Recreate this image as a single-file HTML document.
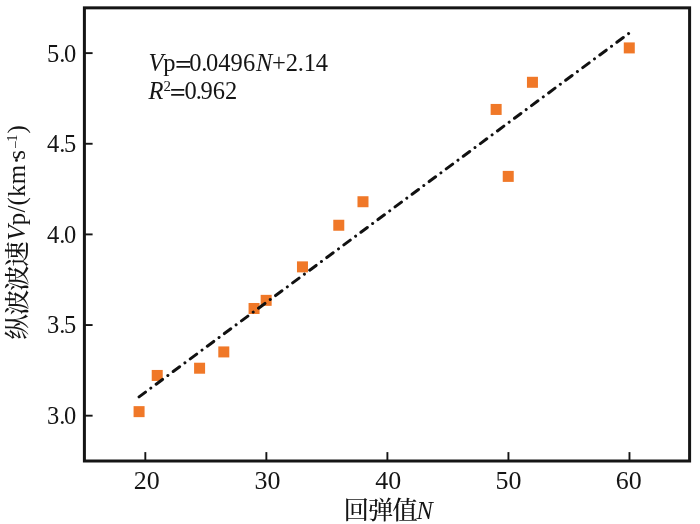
<!DOCTYPE html>
<html lang="zh">
<head>
<meta charset="utf-8">
<title>回弹值N - 纵波波速Vp</title>
<style>
html,body{margin:0;padding:0;background:#fff;}
body{width:700px;height:524px;overflow:hidden;}
svg{display:block;}
text{font-family:"Liberation Serif","Noto Serif CJK SC",serif;fill:#151515;}
.cjk{font-family:"Liberation Serif","Noto Serif CJK SC",serif;font-size:25.5px;letter-spacing:-1.2px;font-weight:500;}
.it{font-style:italic;}
</style>
</head>
<body>
<svg width="700" height="524" viewBox="0 0 700 524">
<rect x="0" y="0" width="700" height="524" fill="#ffffff"/>

<g stroke="#151515" stroke-width="1.9" fill="none">
<line x1="145.32" y1="461.00" x2="145.32" y2="452.10"/>
<line x1="266.36" y1="461.00" x2="266.36" y2="452.10"/>
<line x1="387.40" y1="461.00" x2="387.40" y2="452.10"/>
<line x1="508.44" y1="461.00" x2="508.44" y2="452.10"/>
<line x1="629.48" y1="461.00" x2="629.48" y2="452.10"/>
<line x1="84.40" y1="415.68" x2="92.60" y2="415.68"/>
<line x1="84.40" y1="325.04" x2="92.60" y2="325.04"/>
<line x1="84.40" y1="234.40" x2="92.60" y2="234.40"/>
<line x1="84.40" y1="143.76" x2="92.60" y2="143.76"/>
<line x1="84.40" y1="53.12" x2="92.60" y2="53.12"/>
</g>
<g fill="#f07828">
<rect x="133.57" y="406.14" width="11.0" height="11.0"/>
<rect x="151.72" y="369.95" width="11.0" height="11.0"/>
<rect x="194.09" y="362.71" width="11.0" height="11.0"/>
<rect x="218.30" y="346.42" width="11.0" height="11.0"/>
<rect x="248.56" y="302.99" width="11.0" height="11.0"/>
<rect x="260.66" y="294.85" width="11.0" height="11.0"/>
<rect x="296.97" y="261.37" width="11.0" height="11.0"/>
<rect x="333.28" y="219.75" width="11.0" height="11.0"/>
<rect x="357.49" y="196.23" width="11.0" height="11.0"/>
<rect x="490.64" y="103.94" width="11.0" height="11.0"/>
<rect x="502.74" y="170.89" width="11.0" height="11.0"/>
<rect x="526.95" y="76.79" width="11.0" height="11.0"/>
<rect x="623.78" y="42.41" width="11.0" height="11.0"/>
</g>
<line x1="139.07" y1="396.86" x2="629.58" y2="32.85" stroke="#111" stroke-width="3" stroke-linecap="round" stroke-dasharray="8 6.62 0.01 6.62" fill="none"/>
<rect x="84.40" y="7.85" width="605.20" height="453.15" fill="none" stroke="#151515" stroke-width="3"/>
<g font-size="24.5">
<text transform="translate(146.82,489.2) scale(1.06,1)" text-anchor="middle">20</text>
<text transform="translate(267.46,489.2) scale(1.06,1)" text-anchor="middle">30</text>
<text transform="translate(388.30,489.2) scale(1.06,1)" text-anchor="middle">40</text>
<text transform="translate(508.54,489.2) scale(1.06,1)" text-anchor="middle">50</text>
<text transform="translate(628.78,489.2) scale(1.06,1)" text-anchor="middle">60</text>
<text x="76.2" y="423.76" text-anchor="end">3.<tspan dx="-1.4">0</tspan></text>
<text x="76.2" y="333.28" text-anchor="end">3.<tspan dx="-1.4">5</tspan></text>
<text x="76.2" y="242.80" text-anchor="end">4.<tspan dx="-1.4">0</tspan></text>
<text x="76.2" y="152.32" text-anchor="end">4.<tspan dx="-1.4">5</tspan></text>
<text x="76.2" y="61.84" text-anchor="end">5.<tspan dx="-1.4">0</tspan></text>
</g>
<text x="148.6" y="70.7" font-size="24.5" letter-spacing="-0.2"><tspan class="it">V</tspan>p<tspan x="189.2">0.</tspan><tspan dx="-1.3" letter-spacing="0.1">0496</tspan><tspan class="it" dx="0.6">N</tspan>+2.14</text>
<text transform="translate(174.9,73.0) scale(1.2,1)" font-size="24.5" font-weight="bold">=</text>
<text x="148.6" y="98.8" font-size="24.5"><tspan class="it">R</tspan><tspan font-size="15" dy="-8">2</tspan><tspan dy="8" x="184.6">0</tspan><tspan dx="-1">.</tspan><tspan dx="-1.4">962</tspan></text>
<text transform="translate(169.8,101.1) scale(1.15,1)" font-size="24.5" font-weight="bold">=</text>
<text x="343.6" y="519.3"><tspan class="cjk">回弹值</tspan><tspan x="416.6" class="it" font-size="24.5">N</tspan></text>
<text transform="translate(24.6,0) rotate(-90)" font-size="25"><tspan x="-339.6" dy="1" class="cjk">纵波波速</tspan><tspan x="-240.5" dy="-1" class="it">V</tspan><tspan letter-spacing="0.15">p/(km</tspan><tspan x="-164.5">·</tspan><tspan x="-159.8">s</tspan><tspan x="-149" font-size="14.5" dy="-4.6">−</tspan><tspan x="-141.8" font-size="14.5" dy="-2.6">1</tspan><tspan x="-133.5" dy="7.2">)</tspan></text>
</svg>
</body>
</html>
